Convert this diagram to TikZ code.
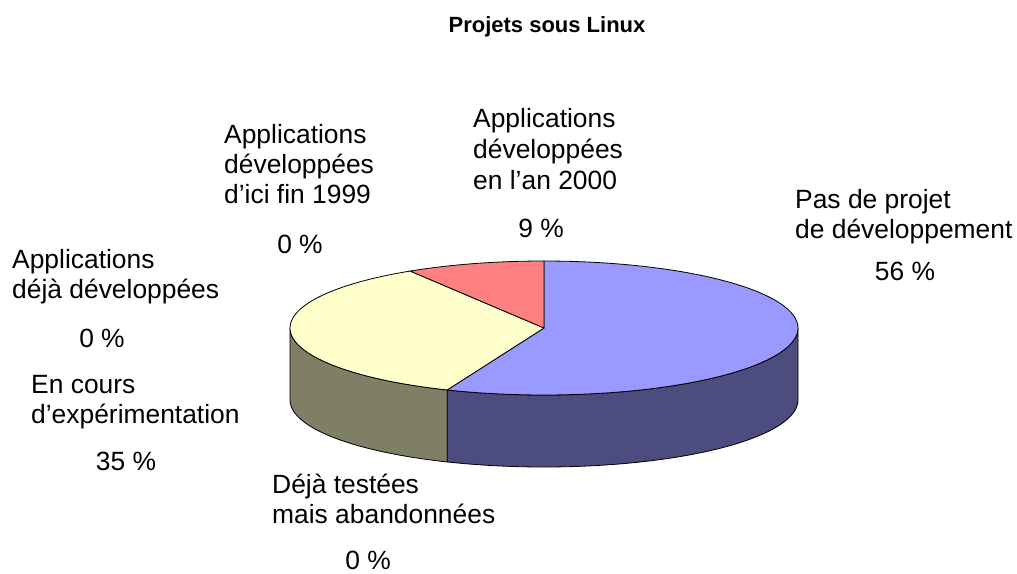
\documentclass[tikz,border=0pt]{standalone}
\usepackage{fontspec}
\setmainfont{Liberation Sans}
\newcommand\lblfont{\fontsize{26.4}{30}\selectfont}
\newcommand\ttlfont{\fontsize{22}{26}\selectfont\bfseries}
\definecolor{bluetop}{HTML}{9999FF}
\definecolor{blueside}{HTML}{4C4C7F}
\definecolor{yeltop}{HTML}{FFFFCC}
\definecolor{yelside}{HTML}{7F7F66}
\definecolor{pinktop}{HTML}{FF8080}
\begin{document}
\begin{tikzpicture}[x=1pt,y=-1pt,
  lbl/.style={inner sep=0pt,anchor=base west,font=\lblfont},
  val/.style={inner sep=0pt,anchor=base,font=\lblfont},
  edge/.style={draw=black,line width=0.8pt,line join=round}]
\useasboundingbox (0,0) rectangle (1017,573);
\def\pcx{544}\def\pcy{328}\def\pra{254}\def\prb{67}\def\pdep{72}
\def\pbnd{247.6}\def\ptop{121.8}
\coordinate (c) at (\pcx,\pcy);
% sides
\path[edge,fill=yelside] plot[domain=180:\pbnd,samples=40] ({\pcx+\pra*cos(\x)},{\pcy-\prb*sin(\x)})
  -- plot[domain=\pbnd:180,samples=40] ({\pcx+\pra*cos(\x)},{\pcy-\prb*sin(\x)+\pdep}) -- cycle;
\path[edge,fill=blueside] plot[domain=\pbnd:360,samples=60] ({\pcx+\pra*cos(\x)},{\pcy-\prb*sin(\x)})
  -- plot[domain=360:\pbnd,samples=60] ({\pcx+\pra*cos(\x)},{\pcy-\prb*sin(\x)+\pdep}) -- cycle;
% tops
\path[edge,fill=bluetop] (c) -- plot[domain=90:\pbnd-360,samples=100] ({\pcx+\pra*cos(\x)},{\pcy-\prb*sin(\x)}) -- cycle;
\path[edge,fill=yeltop] (c) -- plot[domain=\pbnd:\ptop,samples=70] ({\pcx+\pra*cos(\x)},{\pcy-\prb*sin(\x)}) -- cycle;
\path[edge,fill=pinktop] (c) -- plot[domain=\ptop:90,samples=30] ({\pcx+\pra*cos(\x)},{\pcy-\prb*sin(\x)}) -- cycle;
% title
\node[inner sep=0pt,anchor=base,font=\ttlfont] (title) at (547,32) {Projets sous Linux};
% labels
\node[lbl] (a1) at (224,143) {Applications};
\node[lbl] (a2) at (224,173) {développées};
\node[lbl] (a3) at (224,203) {d’ici fin 1999};
\node[val] (av) at (300,253) {0 \%};
\node[lbl] (b1) at (12,268) {Applications};
\node[lbl] (b2) at (12,298) {déjà développées};
\node[val] (bv) at (102,347) {0 \%};
\node[lbl] (c1) at (31,393) {En cours};
\node[lbl] (c2) at (31,423) {d’expérimentation};
\node[val] (cv) at (126,470) {35 \%};
\node[lbl] (d1) at (272,493) {Déjà testées};
\node[lbl] (d2) at (272,523) {mais abandonnées};
\node[val] (dv) at (368,569) {0 \%};
\node[lbl] (e1) at (473,127) {Applications};
\node[lbl] (e2) at (473,158) {développées};
\node[lbl] (e3) at (473,189) {en l’an 2000};
\node[val] (ev) at (541,237) {9 \%};
\node[lbl] (f1) at (795,208) {Pas de projet};
\node[lbl] (f2) at (795,238) {de développement};
\node[val] (fv) at (905,280) {56 \%};
\end{tikzpicture}
\end{document}
